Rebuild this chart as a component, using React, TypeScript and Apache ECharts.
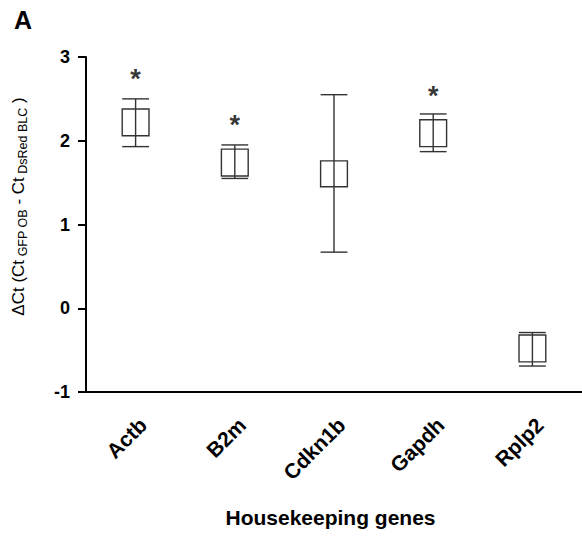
import React, { useEffect, useRef } from "react";
import * as echarts from "echarts";

const categories = ["Actb", "B2m", "Cdkn1b", "Gapdh", "Rplp2"];
const whiskerLow = [1.93, 1.55, 0.67, 1.87, -0.69];
const boxLow = [2.06, 1.58, 1.45, 1.93, -0.64];
const boxHigh = [2.38, 1.9, 1.76, 2.25, -0.32];
const whiskerHigh = [2.5, 1.95, 2.55, 2.32, -0.29];
const significanceMarks = ["*", "*", "", "*", ""];
const significanceY = [2.81, 2.26, null, 2.61, null];
const yMin = -1;
const yMax = 3;
const yInterval = 1;

const LINE = "#333";

export default function App() {
  const ref = useRef<HTMLDivElement>(null);
  useEffect(() => {
    if (!ref.current) return;
    const chart = echarts.init(ref.current, null, { renderer: "svg" });
    const boxData = categories.map((_, i) => [i, whiskerLow[i], boxLow[i], boxHigh[i], whiskerHigh[i]]);
    const starData = categories
      .map((_, i) => (significanceMarks[i] ? { value: [i, significanceY[i]], mark: significanceMarks[i] } : null))
      .filter(Boolean);
    chart.setOption({
      animation: false,
      title: {
        text: "A",
        left: 9,
        top: 2,
        textStyle: { fontSize: 25, fontWeight: "bold", color: "#000", fontFamily: "Liberation Sans" },
      },
      grid: { left: 86, top: 57, width: 500, height: 335 },
      xAxis: {
        type: "category",
        data: categories,
        boundaryGap: true,
        name: "Housekeeping genes",
        nameLocation: "middle",
        nameGap: 115,
        nameTextStyle: { fontSize: 21, fontWeight: "bold", color: "#000", fontFamily: "Liberation Sans", padding: [0, 7, 0, 0] },
        axisLine: { onZero: false, lineStyle: { color: "#000", width: 2 } },
        axisTick: { alignWithLabel: true, length: 8, lineStyle: { color: "#000", width: 2 } },
        axisLabel: {
          rotate: 45,
          margin: 22,
          align: "right",
          verticalAlign: "top",
          fontSize: 21,
          fontWeight: "bold",
          color: "#000",
          fontFamily: "Liberation Sans",
          interval: 0,
        },
        splitLine: { show: false },
      },
      yAxis: {
        type: "value",
        min: yMin,
        max: yMax,
        interval: yInterval,
        name: "{m|ΔCt (Ct}{s| GFP OB}{m| - Ct}{s| DsRed BLC}{m| )}",
        nameLocation: "middle",
        nameRotate: 90,
        nameGap: 57,
        nameTextStyle: {
          color: "#000",
          padding: [0, 0, 0, 36],
          rich: {
            m: { fontSize: 17, fontFamily: "Liberation Sans", color: "#000", lineHeight: 21 },
            s: { fontSize: 12.5, fontFamily: "Liberation Sans", color: "#000", lineHeight: 12, verticalAlign: "bottom" },
          },
        },
        axisLine: { show: true, lineStyle: { color: "#000", width: 2 } },
        axisTick: { show: true, length: 8, lineStyle: { color: "#000", width: 2 } },
        axisLabel: { margin: 16, fontSize: 18, fontWeight: "bold", color: "#000", fontFamily: "Liberation Sans" },
        splitLine: { show: false },
      },
      series: [
        {
          type: "custom",
          data: boxData,
          encode: { x: 0, y: [1, 2, 3, 4] },
          renderItem: (params: any, api: any) => {
            const idx = api.value(0);
            const band = api.size([1, 0])[0];
            const w = band * 0.27;
            const pWL = api.coord([idx, api.value(1)]);
            const pBL = api.coord([idx, api.value(2)]);
            const pBH = api.coord([idx, api.value(3)]);
            const pWH = api.coord([idx, api.value(4)]);
            const cx = pWL[0];
            const style = { stroke: LINE, lineWidth: 1.4, fill: "none" };
            return {
              type: "group",
              children: [
                { type: "line", shape: { x1: cx, y1: pWL[1], x2: cx, y2: pWH[1] }, style },
                { type: "line", shape: { x1: cx - w / 2, y1: pWL[1], x2: cx + w / 2, y2: pWL[1] }, style },
                { type: "line", shape: { x1: cx - w / 2, y1: pWH[1], x2: cx + w / 2, y2: pWH[1] }, style },
                {
                  type: "rect",
                  shape: { x: cx - w / 2, y: pBH[1], width: w, height: pBL[1] - pBH[1] },
                  style: { stroke: LINE, lineWidth: 1.4, fill: "transparent" },
                },
              ],
            };
          },
          z: 2,
        },
        {
          type: "scatter",
          data: starData,
          symbolSize: 0,
          label: {
            show: true,
            position: "inside",
            formatter: (p: any) => p.data.mark,
            fontSize: 27,
            fontWeight: "bold",
            color: "#000",
            fontFamily: "Liberation Sans",
            offset: [0, 6],
          },
          z: 3,
        },
      ],
    });
    return () => chart.dispose();
  }, []);
  return <div ref={ref} style={{ position: "absolute", left: 0, top: 0, width: 582, height: 538 }} />;
}
